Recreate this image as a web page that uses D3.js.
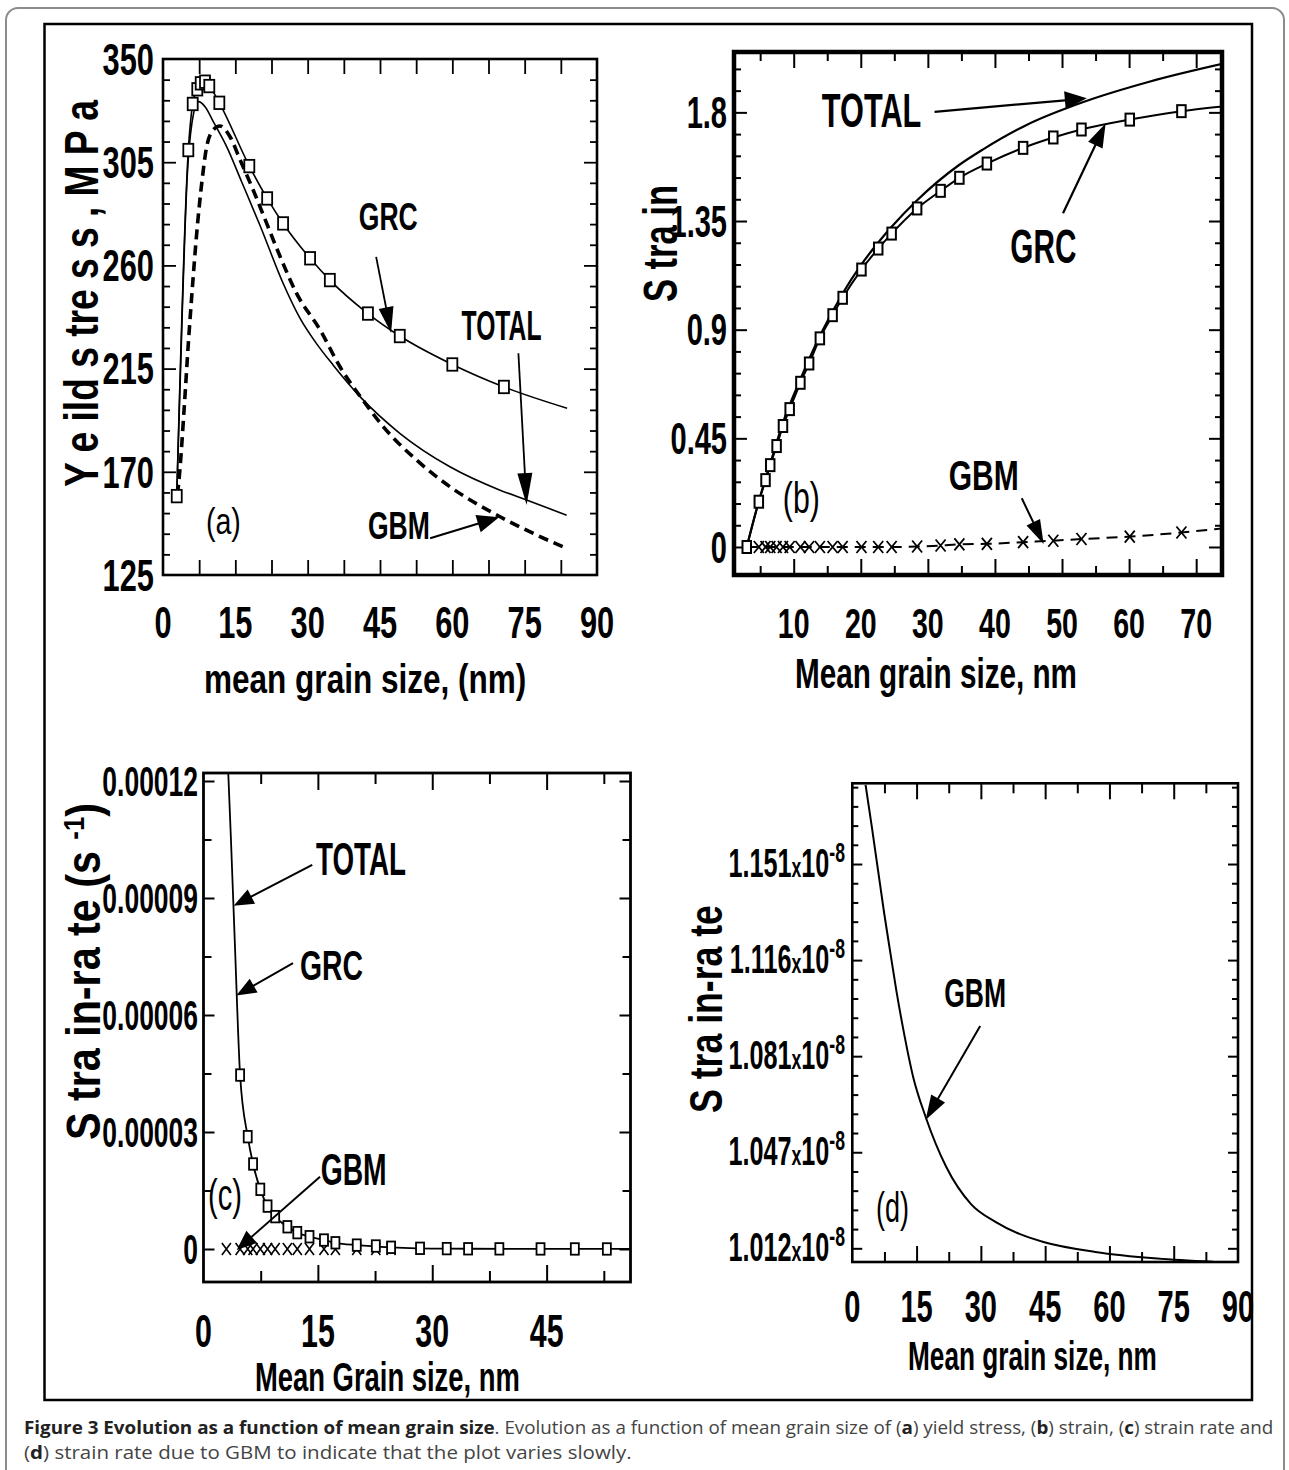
<!DOCTYPE html>
<html><head><meta charset="utf-8">
<script src="https://cdn.jsdelivr.net/npm/d3@7"></script>
<style>body{margin:0;background:#fff}svg{display:block}</style>
</head><body>
<script>
// ================= DATA =================
// (a) Yield stress (MPa) vs mean grain size (nm)
const stressSizesGRC = [2.85, 5.25, 6.16, 7.11, 7.82, 8.71, 9.6, 11.68, 17.9, 21.6, 24.9, 30.5, 34.6, 42.5, 49.1, 60.0, 70.7];
const stressGRC      = [159.4, 310.3, 330.4, 336.8, 339.4, 340.1, 338.2, 330.9, 303.3, 289.2, 278.3, 263.1, 253.6, 239.0, 229.2, 216.8, 207.0];
const stressGRCEnd   = [83.8, 197.7];
const stressTotal = [[2.85,159.4],[4.0,240],[5.0,298],[6.0,322],[7.33,331.4],[8.8,329],[10.43,322.7],[13.2,311.8],[16.3,296.5],[20.1,277.5],[24.95,252],[28.4,237],[31.8,226],[35.3,216.5],[41.2,202],[49.1,186.8],[59.5,172.2],[69.9,162],[75.4,157.7],[83.7,151.1]];
const stressGBM = [[3.0,160],[3.44,169.3],[4.4,198],[5.3,227.4],[5.95,246.3],[6.99,274],[8.03,295.8],[9.06,311.8],[10.4,319],[11.8,320.8],[13.9,316.1],[16.0,306],[18.7,292.9],[21.5,278.3],[24.3,263.8],[27.7,247.8],[32.6,231.8],[36.7,215.8],[41.2,202],[45.7,189.6],[52.6,175.1],[59.5,163.5],[69.9,150.4],[76.8,143.1],[83.7,136.6]];

// grain sizes sampled in (b) and (c)
const grainSizes = [3.0, 4.8, 5.8, 6.5, 7.45, 8.4, 9.4, 11.0, 12.3, 13.9, 15.8, 17.3, 20.1, 22.6, 24.6, 28.4, 31.9, 34.7, 38.8, 44.2, 48.7, 52.9, 60.1, 67.8];
// (b) Strain
const strainGRC = [0, 0.1875, 0.277, 0.339, 0.418, 0.501, 0.571, 0.680, 0.760, 0.864, 0.960, 1.032, 1.149, 1.236, 1.298, 1.402, 1.475, 1.529, 1.588, 1.653, 1.696, 1.729, 1.770, 1.805];
const strainGRCEnd = [75, 1.828];
const strainGBM = [0,0,0,0,0,0,0,0,0,0,0,0,0,0,0, 0.002, 0.006, 0.011, 0.013, 0.020, 0.026, 0.033, 0.043, 0.060];
const strainGBMEnd = [75, 0.08];
const strainTotal = [[3.0,0],[4.8,0.19],[6.5,0.345],[8.4,0.515],[11.0,0.695],[14.0,0.88],[17.3,1.05],[20.1,1.17],[24.6,1.326],[28.4,1.436],[34.6,1.581],[38.3,1.648],[44.5,1.745],[53.4,1.845],[63.0,1.927],[75,2.008]];

// (c) Strain rate (s^-1)
const rateGRC = [1.34e-4, 4.46e-5, 2.88e-5, 2.18e-5, 1.53e-5, 1.10e-5, 8.3e-6, 5.7e-6, 4.2e-6, 3.15e-6, 2.3e-6, 1.6e-6, 1.0e-6, 7.7e-7, 4.4e-7, 1.8e-7, 1.0e-7, 6e-8, 4e-8, 2e-8, 1.5e-8, 1e-8, 1e-8, 1e-8];
const rateTotal = [[3.0,1.34e-4],[3.6,1.05e-4],[4.1,7.9e-5],[4.8,4.46e-5],[5.8,2.88e-5],[6.5,2.18e-5],[7.45,1.53e-5],[8.4,1.10e-5],[9.4,8.3e-6],[11.0,5.7e-6],[12.3,4.2e-6],[13.9,3.15e-6],[15.8,2.3e-6],[17.3,1.6e-6],[20.1,1.0e-6],[24.6,4.4e-7],[31.9,1.0e-7],[44.2,2e-8],[56,1e-8]];
const rateGBMSizes = grainSizes.slice(0, 15);
const rateGBM = [1.18e-8, 1.16e-8, 1.145e-8, 1.136e-8, 1.125e-8, 1.11e-8, 1.10e-8, 1.085e-8, 1.077e-8, 1.068e-8, 1.062e-8, 1.058e-8, 1.048e-8, 1.04e-8, 1.035e-8];

// (d) GBM strain rate, in units of 1e-8 s^-1
const gbmRate = [[3.1,1.1796],[4.55,1.1645],[6.0,1.1488],[7.44,1.1332],[8.9,1.1187],[10.3,1.1050],[11.8,1.0920],[14.2,1.0740],[17.1,1.0596],[21.9,1.0415],[27.7,1.028],[33.5,1.0215],[39.0,1.0172],[44.6,1.0143],[56.7,1.0107],[71.2,1.0083],[84.2,1.0071]];

// tick values / labels
const xTicksA = [0,15,30,45,60,75,90], xTickLabelsA = ["0","15","30","45","60","75","90"];
const yTicksA = [125,170,215,260,305,350], yTickLabelsA = ["125","170","215","260","305","350"];
const xTicksB = [10,20,30,40,50,60,70], xTickLabelsB = ["10","20","30","40","50","60","70"];
const yTicksB = [0,0.45,0.9,1.35,1.8], yTickLabelsB = ["0","0.45","0.9","1.35","1.8"];
const xTicksC = [0,15,30,45], xTickLabelsC = ["0","15","30","45"];
const yTicksC = [0,3e-5,6e-5,9e-5,1.2e-4], yTickLabelsC = ["0","0.00003","0.00006","0.00009","0.00012"];
const xTicksD = [0,15,30,45,60,75,90], xTickLabelsD = ["0","15","30","45","60","75","90"];
const yTicksD = [1.012,1.04675,1.0815,1.11625,1.151], yTickLabelsD = ["1.012","1.047","1.081","1.116","1.151"];

// ================= SETUP =================
const FONT = "'Liberation Sans', Arial, Helvetica, sans-serif";
const svg = d3.select("body").append("svg").attr("width",1289).attr("height",1470);
svg.append("rect").attr("width",1289).attr("height",1470).attr("fill","#fff");
svg.append("rect").attr("x",6).attr("y",8).attr("width",1278).attr("height",1480).attr("rx",12)
  .attr("fill","none").attr("stroke","#8c8c8c").attr("stroke-width",2);
svg.append("rect").attr("x",44.5).attr("y",24).attr("width",1207.5).attr("height",1376)
  .attr("fill","none").attr("stroke","#000").attr("stroke-width",2.5);

function ctext(g, str, x, y, o) {
  const t = g.append("text")
    .attr("transform", `translate(${x},${y})${o.rotate?` rotate(${o.rotate})`:""} scale(${o.sx||1},1)`)
    .attr("text-anchor", o.anchor||"middle")
    .attr("font-family", FONT).attr("font-weight", o.weight||"bold")
    .attr("font-size", o.size).attr("fill","#000");
  if (str!=null) t.text(str);
  return t;
}
// text squeezed horizontally (along its baseline) to a target width, via a scale transform
function fit(g, str, x, y, width, size, o={}) {
  const t = g.append("text")
    .attr("font-family", FONT).attr("font-weight", o.weight||"bold")
    .attr("font-size", size).attr("fill","#000").attr("text-anchor", o.anchor||"start");
  if (str!=null) t.text(str);
  if (o.build) o.build(t);
  const w = t.node().getComputedTextLength() || width;
  t.attr("transform", `translate(${x},${y})${o.rotate?` rotate(${o.rotate})`:""} scale(${width/w},1)`);
  return t;
}
function arrow(g, p1, p2, hl, hw, sw) {
  const [x1,y1]=p1,[x2,y2]=p2, dx=x2-x1, dy=y2-y1, L=Math.hypot(dx,dy), ux=dx/L, uy=dy/L;
  const bx=x2-ux*hl, by=y2-uy*hl;
  g.append("line").attr("x1",x1).attr("y1",y1).attr("x2",bx+ux*3).attr("y2",by+uy*3)
    .attr("stroke","#000").attr("stroke-width",sw||2);
  g.append("path").attr("d",`M${x2},${y2}L${bx-uy*hw},${by+ux*hw}L${bx+uy*hw},${by-ux*hw}Z`).attr("fill","#000");
}
function ticks(P, xs, ys, xMaj, xMin, yMaj, yMin, L) {
  const g = svg.append("g");
  const sets = [
    ["bottom", xs, xMaj, L.xMaj], ["bottom", xs, xMin, L.xMin],
    ["top", xs, xMaj, L.xMaj], ["top", xs, xMin, L.xMin],
    ["left", ys, yMaj, L.yMaj], ["left", ys, yMin, L.yMin],
    ["right", ys, yMaj, L.yMaj], ["right", ys, yMin, L.yMin]];
  for (const [side, sc, vals, len] of sets) {
    if (!vals.length) continue;
    const ax = side==="bottom"?d3.axisBottom(sc):side==="top"?d3.axisTop(sc):side==="left"?d3.axisLeft(sc):d3.axisRight(sc);
    const tr = side==="bottom"?`translate(0,${P.y1})`:side==="top"?`translate(0,${P.y0})`:side==="left"?`translate(${P.x0},0)`:`translate(${P.x1},0)`;
    g.append("g").attr("transform",tr).call(ax.tickValues(vals).tickSize(-len).tickFormat(""))
      .call(s=>s.select(".domain").remove())
      .call(s=>s.selectAll("text").remove())
      .call(s=>s.selectAll("line").attr("stroke","#000").attr("stroke-width",L.tw));
  }
}
function frame(P, sw) {
  svg.append("rect").attr("x",P.x0).attr("y",P.y0).attr("width",P.x1-P.x0).attr("height",P.y1-P.y0)
    .attr("fill","none").attr("stroke","#000").attr("stroke-width",sw);
}
function clip(id, P) {
  svg.append("clipPath").attr("id",id).append("rect").attr("x",P.x0).attr("y",P.y0).attr("width",P.x1-P.x0).attr("height",P.y1-P.y0);
  return svg.append("g").attr("clip-path",`url(#${id})`);
}
function squares(g, pts, xs, ys, w, h, sw) {
  g.selectAll(null).data(pts).join("rect")
    .attr("x",d=>xs(d[0])-w/2).attr("y",d=>ys(d[1])-h/2).attr("width",w).attr("height",h)
    .attr("fill","#fff").attr("stroke","#000").attr("stroke-width",sw);
}
function crosses(g, pts, xs, ys, hw, hh, sw) {
  g.selectAll(null).data(pts).join("path")
    .attr("d",d=>{const x=xs(d[0]), y=ys(d[1]); return `M${x-hw},${y-hh}L${x+hw},${y+hh}M${x-hw},${y+hh}L${x+hw},${y-hh}`;})
    .attr("fill","none").attr("stroke","#000").attr("stroke-width",sw);
}
const zip = (a,b) => a.map((v,i)=>[v,b[i]]);
const lineGen = (xs, ys) => d3.line().x(d=>xs(d[0])).y(d=>ys(d[1])).curve(d3.curveMonotoneX);
const stepRange = (a, b, s) => d3.range(Math.round((b-a)/s)+1).map(i => +(a+i*s).toFixed(8));

// ================= PANEL (a) =================
{
  const P = {x0:163, x1:597, y0:59, y1:575};
  const x = d3.scaleLinear([0,90],[P.x0,P.x1]);
  const y = d3.scaleLinear([125,350],[P.y1,P.y0]);
  const xAll = stepRange(7.5, 82.5, 7.5);
  const yAll = stepRange(134, 341, 9);
  ticks(P, x, y, xAll, [], yAll.filter(v=>v%45===35), yAll.filter(v=>v%45!==35), {xMaj:15, xMin:15, yMaj:13, yMin:7, tw:1.8});
  const g = clip("clipA", P);
  const L = lineGen(x,y);
  g.append("path").attr("d", L(stressGBM)).attr("fill","none").attr("stroke","#000").attr("stroke-width",3.6).attr("stroke-dasharray","10,6");
  g.append("path").attr("d", L(stressTotal)).attr("fill","none").attr("stroke","#000").attr("stroke-width",1.6);
  const grc = zip(stressSizesGRC, stressGRC);
  g.append("path").attr("d", L(grc.concat([stressGRCEnd]))).attr("fill","none").attr("stroke","#000").attr("stroke-width",1.6);
  squares(svg, grc, x, y, 10, 12.5, 1.8);
  frame(P, 2.6);
  const t = svg.append("g");
  yTicksA.forEach((v,i)=>ctext(t, yTickLabelsA[i], 154, y(v)+15.7, {size:44, sx:0.7, anchor:"end"}));
  xTicksA.forEach((v,i)=>ctext(t, xTickLabelsA[i], x(v), 638, {size:44, sx:0.7}));
  fit(t, "mean grain size, (nm)", 204, 693, 322.5, 40);
  fit(t, "Y e ild s tre s s , M P a", 98, 293.5, 387, 48, {rotate:-90, anchor:"middle"});
  fit(t, "GRC", x(40.6), y(275.5), 59, 38);
  fit(t, "TOTAL", x(61.9), y(227.5), 80, 42);
  fit(t, "GBM", x(42.5), y(140.7), 62, 39);
  fit(t, "(a)", x(8.9), y(142.9), 35, 37, {weight:"normal"});
  arrow(t, [x(44.2),y(263.7)], [x(47.3),y(230.5)], 26, 7.5, 1.8);
  arrow(t, [x(73.7),y(221.7)], [x(75.4),y(155.5)], 32, 7.5, 1.8);
  arrow(t, [x(55.4),y(141)], [x(69.7),y(150.2)], 22, 9, 2);
}

// ================= PANEL (b) =================
{
  const P = {x0:734, x1:1222, y0:52, y1:575};
  const x = d3.scaleLinear([1.1,73.85],[P.x0,P.x1]);
  const y = d3.scaleLinear([-0.116,2.05],[P.y1,P.y0]);
  const xAll = stepRange(5, 70, 5);
  const yIdx = d3.range(0, 23);
  ticks(P, x, y, xAll.filter(v=>v%10===0), xAll.filter(v=>v%10!==0),
        yIdx.filter(i=>i%5===0).map(i=>i*0.09), yIdx.filter(i=>i%5!==0).map(i=>i*0.09),
        {xMaj:16, xMin:9, yMaj:13, yMin:7, tw:2});
  const g = clip("clipB", P);
  const L = lineGen(x,y);
  const gbm = zip(grainSizes, strainGBM);
  g.append("path").attr("d", L(gbm.concat([strainGBMEnd]))).attr("fill","none").attr("stroke","#000").attr("stroke-width",2).attr("stroke-dasharray","11,7");
  g.append("path").attr("d", L(strainTotal)).attr("fill","none").attr("stroke","#000").attr("stroke-width",2.2);
  const grc = zip(grainSizes, strainGRC);
  g.append("path").attr("d", L(grc.concat([strainGRCEnd]))).attr("fill","none").attr("stroke","#000").attr("stroke-width",2);
  crosses(svg, gbm.slice(1), x, y, 5, 6, 1.8);
  squares(svg, grc, x, y, 8.5, 12, 2);
  frame(P, 4.5);
  const t = svg.append("g");
  yTicksB.forEach((v,i)=>ctext(t, yTickLabelsB[i], 727, y(v)+15.7, {size:44, sx:0.66, anchor:"end"}));
  xTicksB.forEach((v,i)=>ctext(t, xTickLabelsB[i], x(v), 638, {size:42, sx:0.68}));
  fit(t, "Mean grain size, nm", 795, 688, 282, 42);
  fit(t, "S tra in", 677, 243.5, 117, 48, {rotate:-90, anchor:"middle"});
  fit(t, "TOTAL", x(14.2), y(1.739), 99.5, 48);
  fit(t, "GRC", x(42.3), y(1.176), 66, 48);
  fit(t, "GBM", x(33.1), y(0.236), 70, 42);
  fit(t, "(b)", x(8.38), y(0.141), 37, 44, {weight:"normal"});
  arrow(t, [x(31.0),y(1.802)], [x(53.7),y(1.858)], 22, 9, 2.2);
  arrow(t, [x(50.15),y(1.382)], [x(56.5),y(1.754)], 24, 8, 2.2);
  arrow(t, [x(44.0),y(0.2017)], [x(47.26),y(0.0124)], 24, 7.5, 2);
}

// ================= PANEL (c) =================
{
  const P = {x0:203.5, x1:630.5, y0:773, y1:1282};
  const x = d3.scaleLinear([0,56],[P.x0,P.x1]);
  const y = d3.scaleLinear([-8.46e-6,1.2205e-4],[P.y1,P.y0]);
  const xAll = stepRange(7.5, 52.5, 7.5);
  const yIdx = d3.range(0, 9);
  ticks(P, x, y, xAll.filter(v=>v%15===0), xAll.filter(v=>v%15!==0),
        yIdx.filter(i=>i%2===0).map(i=>i*1.5e-5), yIdx.filter(i=>i%2!==0).map(i=>i*1.5e-5),
        {xMaj:17, xMin:11, yMaj:11, yMin:8, tw:2});
  const g = clip("clipC", P);
  const L = lineGen(x,y);
  g.append("path").attr("d", L(rateTotal)).attr("fill","none").attr("stroke","#000").attr("stroke-width",1.8);
  crosses(svg, zip(rateGBMSizes, rateGBM), x, y, 4.5, 6, 1.6);
  const grc = zip(grainSizes, rateGRC).filter(d=>d[0]<=56 && d[1]<=1.2205e-4);
  squares(svg, grc, x, y, 8, 11.5, 1.8);
  frame(P, 2.8);
  const t = svg.append("g");
  yTicksC.forEach((v,i)=>ctext(t, yTickLabelsC[i], 198, y(v)+15, {size:42, sx:0.63, anchor:"end"}));
  xTicksC.forEach((v,i)=>ctext(t, xTickLabelsC[i], x(v), 1347, {size:46, sx:0.66}));
  fit(t, "Mean Grain size, nm", 255, 1391, 265, 40);
  fit(t, null, 100, 971.5, 337, 48, {rotate:-90, anchor:"middle", build: yt => {
    yt.append("tspan").text("S tra in-ra te (s ");
    yt.append("tspan").attr("font-size",30).attr("dy",-16).text("-1");
    yt.append("tspan").attr("dy",16).text(")");
  }});
  fit(t, "TOTAL", x(14.75), y(9.59e-5), 90, 46);
  fit(t, "GRC", x(12.66), y(6.9e-5), 63, 42);
  fit(t, "GBM", x(15.37), y(1.64e-5), 66, 44);
  fit(t, "(c)", x(0.59), y(1.0e-5), 34, 44, {weight:"normal"});
  arrow(t, [x(14.26),y(9.85e-5)], [x(3.95),y(8.8e-5)], 20, 8, 2);
  arrow(t, [x(11.74),y(7.33e-5)], [x(4.3),y(6.5e-5)], 20, 8, 2);
  arrow(t, [x(15.28),y(1.854e-5)], [x(4.35),y(-2.6e-7)], 20, 8, 2);
}

// ================= PANEL (d) =================
{
  const P = {x0:852.3, x1:1238, y0:783.3, y1:1262};
  const x = d3.scaleLinear([0,90],[P.x0,P.x1]);
  const y = d3.scaleLinear([1.00705,1.1802],[P.y1,P.y0]);
  const xAll = stepRange(7.5, 82.5, 7.5);
  const yIdx = d3.range(0, 25);
  const minor = 0.03475/5;
  ticks(P, x, y, xAll.filter(v=>v%15===0), xAll.filter(v=>v%15!==0),
        yIdx.filter(i=>i%5===0).map(i=>1.012+i*minor), yIdx.filter(i=>i%5!==0).map(i=>1.012+i*minor),
        {xMaj:16, xMin:10, yMaj:10, yMin:6, tw:2});
  const g = clip("clipD", P);
  g.append("path").attr("d", lineGen(x,y)(gbmRate)).attr("fill","none").attr("stroke","#000").attr("stroke-width",2);
  frame(P, 2.6);
  const t = svg.append("g");
  yTicksD.forEach((v,i)=>{
    const tx = ctext(t, null, 845, y(v)+13, {size:40, sx:0.63, anchor:"end"});
    tx.append("tspan").text(yTickLabelsD[i]);
    tx.append("tspan").attr("font-size",28).text("x");
    tx.append("tspan").text("10");
    tx.append("tspan").attr("font-size",28).attr("dy",-15).text("-8");
  });
  xTicksD.forEach((v,i)=>ctext(t, xTickLabelsD[i], x(v), 1322, {size:44, sx:0.66}));
  fit(t, "Mean grain size, nm", 908, 1370, 249, 40);
  fit(t, "S tra in-ra te", 722, 1009, 208, 46, {rotate:-90, anchor:"middle"});
  fit(t, "GBM", x(21.44), y(1.0994), 62, 40);
  fit(t, "(d)", x(5.53), y(1.0215), 33, 42, {weight:"normal"});
  arrow(t, [x(29.84),y(1.0924)], [x(17.1),y(1.0584)], 25, 8, 2);
}

// ================= CAPTION =================
{
  const CF = "'Open Sans', 'Noto Sans', sans-serif";
  const c1 = svg.append("text").attr("font-family",CF).attr("font-size",18.5).attr("fill","#444");
  c1.append("tspan").attr("font-weight","bold").attr("fill","#222").text("Figure 3 Evolution as a function of mean grain size");
  c1.append("tspan").text(". Evolution as a function of mean grain size of (");
  c1.append("tspan").attr("font-weight","bold").attr("fill","#222").text("a");
  c1.append("tspan").text(") yield stress, (");
  c1.append("tspan").attr("font-weight","bold").attr("fill","#222").text("b");
  c1.append("tspan").text(") strain, (");
  c1.append("tspan").attr("font-weight","bold").attr("fill","#222").text("c");
  c1.append("tspan").text(") strain rate and");
  const w1 = c1.node().getComputedTextLength() || 1250;
  c1.attr("transform", `translate(24,1434) scale(${1250/w1},1)`);
  const c2 = svg.append("text").attr("font-family",CF).attr("font-size",18.5).attr("fill","#444");
  c2.append("tspan").text("(");
  c2.append("tspan").attr("font-weight","bold").attr("fill","#222").text("d");
  c2.append("tspan").text(") strain rate due to GBM to indicate that the plot varies slowly.");
  const w2 = c2.node().getComputedTextLength() || 608;
  const s2 = Math.max(0.85, Math.min(1.15, 608/w2));
  c2.attr("transform", `translate(24,1459) scale(${s2},1)`);
}
</script>
</body></html>
